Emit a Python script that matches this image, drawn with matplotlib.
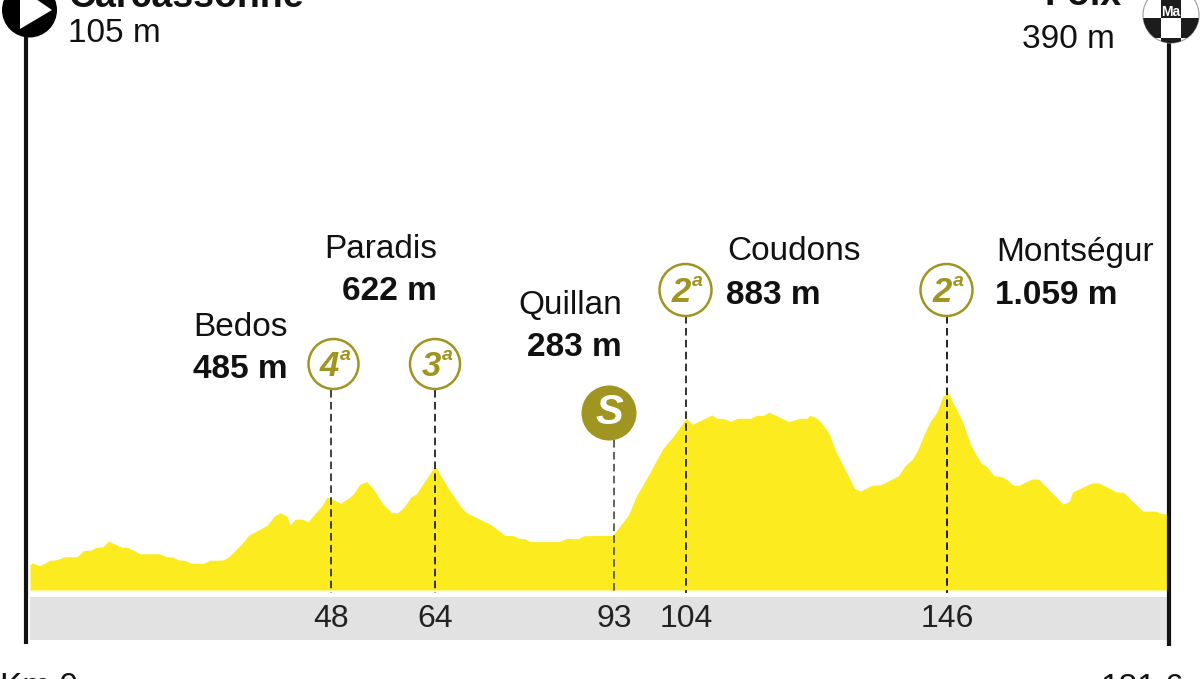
import matplotlib
matplotlib.use("Agg")
import matplotlib.pyplot as plt
from matplotlib.patches import Circle, Polygon, Rectangle
from matplotlib.transforms import blended_transform_factory

# profile of the stage, km / metres
km = [0, 0.4, 1.5, 3.2, 4.3, 5.6, 7.5, 8.5, 9.7, 10.6, 11.6, 12.5, 14.6, 15.5, 17.5, 20.6,
      21.7, 22.7, 23.7, 24.7, 25.7, 27.6, 28.7, 30.7, 31.7, 33.7, 34.8, 37.8, 38.9, 39.8,
      40.9, 41.4, 42.2, 43.3, 44.3, 45.4, 46.4, 47.3, 48.0, 49.4, 50.7, 51.5, 52.5, 53.6,
      54.7, 56.3, 57.6, 58.6, 59.7, 60.6, 61.5, 64.5, 66.6, 68.5, 69.5, 73.5, 75.6, 77.0,
      77.8, 78.8, 79.7, 84.3, 85.3, 87.3, 88.2, 92.8, 95.3, 96.5, 98.5, 100.8, 102.4, 104.5,
      105.5, 108.6, 109.4, 110.5, 111.6, 112.6, 114.7, 115.7, 116.7, 117.7, 120.8, 122.6,
      123.7, 124.2, 125.3, 126.3, 127.3, 128.2, 131.3, 132.2, 134.0, 135.4, 138.3, 139.3,
      140.4, 141.3, 142.5, 143.4, 144.4, 145.4, 146.2, 148.5, 149.7, 150.5, 151.5, 152.4,
      153.5, 154.6, 155.5, 156.6, 157.5, 159.5, 160.6, 164.5, 165.5, 166.0, 169.1, 170.2,
      173.0, 174.1, 177.2, 179.3, 180.2, 181.1]
elev = [136, 147, 132, 161, 165, 181, 181, 214, 217, 232, 234, 266, 232, 232, 197, 197,
        181, 179, 163, 161, 145, 145, 161, 163, 181, 250, 297, 353, 402, 420,
        402, 353, 384, 386, 370, 417, 453, 504, 496, 471, 498, 522, 574, 589,
        547, 462, 420, 420, 457, 504, 522, 674, 553, 457, 420, 353, 297, 295,
        281, 279, 263, 263, 279, 279, 295, 297, 408, 507, 625, 770, 833, 933,
        901, 951, 933, 931, 917, 933, 933, 949, 949, 966, 915, 933,
        933, 949, 933, 897, 846, 761, 553, 536, 569, 571, 621, 674,
        707, 757, 855, 918, 966, 1056, 1072, 915, 797, 743, 689, 670,
        620, 618, 602, 569, 569, 603, 603, 467, 482, 533, 582, 582,
        533, 531, 429, 428, 415, 413]

stop_km = [48, 64.5, 93, 104.5, 146]
stop_labels = ["48", "64", "93", "104", "146"]
climb_cats = ["4", "3", "2", "2"]
climb_names = ["Bedos", "Paradis", "Coudons", "Montségur"]
climb_heights = ["485 m", "622 m", "883 m", "1.059 m"]

YELLOW = "#fbeb1f"
OLIVE = "#a09520"
GREY = "#e2e2e2"
INK = "#111111"

plt.rcParams["font.family"] = ["Liberation Sans Narrow", "Liberation Sans", "DejaVu Sans"]

fig = plt.figure(figsize=(12, 6.79), dpi=100)

# data axes, 6.28 px per km and 0.184 px per metre
ax = fig.add_axes([0, 0, 1, 1])
ax.set_xlim(-30 / 6.28, 1170 / 6.28)
ax.set_ylim(-89 / 0.184, 590 / 0.184)
ax.axis("off")

# overlay in picture pixels for the furniture
over = fig.add_axes([0, 0, 1, 1], facecolor="none")
over.set_xlim(0, 1200)
over.set_ylim(679, 0)
over.axis("off")
kx = blended_transform_factory(ax.transData, over.transData)

over.add_patch(Rectangle((30, 597), 1138, 43, color=GREY, lw=0, zorder=1))
ax.fill_between(km, 0, elev, color=YELLOW, lw=0, zorder=2)

# start / finish posts
over.plot([26, 26], [20, 644], color=INK, lw=3, solid_capstyle="butt", zorder=3)
over.plot([1169, 1169], [30, 646], color=INK, lw=3, solid_capstyle="butt", zorder=3)

# start marker
over.add_patch(Circle((29.5, 10), 27.5, color="black", lw=0, zorder=4))
over.add_patch(Polygon([(20, -12), (52, 10), (20, 29)], color="white", lw=0, zorder=5))

# finish marker, checkered
disc = Circle((1171, 15), 28, fc="white", ec="#999999", lw=0.8, zorder=4)
over.add_patch(disc)
dark_cells = [(1161, -5, 20, 23), (1143, 18, 18, 20), (1181, 18, 18, 20), (1161, 38, 20, 6)]
for x0, y0, w, h in dark_cells:
    cell = Rectangle((x0, y0), w, h, color="#1c1c1c", lw=0, zorder=5)
    over.add_patch(cell)
    cell.set_clip_path(disc)
over.text(1171, 11.5, "Ma", color="white", fontsize=10, fontweight="bold", ha="center", va="center", zorder=6)


def txt(x, y, s, bold=False, size=24, ha="left", **kw):
    over.text(x, y, s, fontsize=size, ha=ha, va="center", color=INK,
              fontweight="bold" if bold else "normal", zorder=7, **kw)


txt(68, -3, "Carcassonne", bold=True, size=27)
txt(68, 34, "105 m")
txt(1122, -5, "Foix", bold=True, size=27, ha="right")
txt(1115, 40, "390 m", ha="right")
txt(0, 688, "Km 0", size=24)
txt(1184, 688, "181,6", size=24, ha="right")

# climbs and sprint: dashed stems
stem_tops = [390, 390, 440, 316, 316]
stem_shades = ["#333333", "#222222", "#555555", "#222222", "#111111"]
for k, top, shade in zip(stop_km, stem_tops, stem_shades):
    over.plot([k, k], [top, 593], transform=kx, color=shade, lw=1.3, dashes=(4.2, 2.4), zorder=3)
for k, s in zip(stop_km, stop_labels):
    over.text(k, 619, s, transform=kx, fontsize=23, ha="center", va="center", color="#222222", zorder=7)

# category badges
badge_xy = [(333.5, 364), (435, 364), (685.5, 290), (946.5, 290)]
for (cx, cy), cat in zip(badge_xy, climb_cats):
    r = 25 if cy > 300 else 26
    over.add_patch(Circle((cx, cy), r, fc="white", ec=OLIVE, lw=1.8, zorder=5))
    over.text(cx - 4, cy + 2, cat, fontsize=25, fontweight="bold", fontstyle="italic",
              color=OLIVE, ha="center", va="center", zorder=6)
    over.text(cx + 12, cy - 8, "a", fontsize=14, fontweight="bold", fontstyle="italic",
              color=OLIVE, ha="center", va="center", zorder=6)

# sprint badge
over.add_patch(Circle((609, 413), 27.5, color=OLIVE, lw=0, zorder=5))
over.text(609, 413, "S", fontsize=30, fontweight="bold", fontstyle="italic", color="white",
          ha="center", va="center", zorder=6)

# names and heights
name_pos = [(288, 327, "right"), (437, 250, "right"), (727, 252, "left"), (996, 253, "left")]
height_pos = [(288, 369, "right"), (437, 292, "right"), (726, 295, "left"), (995, 295, "left")]
for s, (x, y, ha) in zip(climb_names, name_pos):
    txt(x, y, s, ha=ha)
for s, (x, y, ha) in zip(climb_heights, height_pos):
    txt(x, y, s, bold=True, ha=ha)
txt(622, 305, "Quillan", ha="right")
txt(622, 348, "283 m", bold=True, ha="right")

fig.savefig("out.png", dpi=100, facecolor="white")
